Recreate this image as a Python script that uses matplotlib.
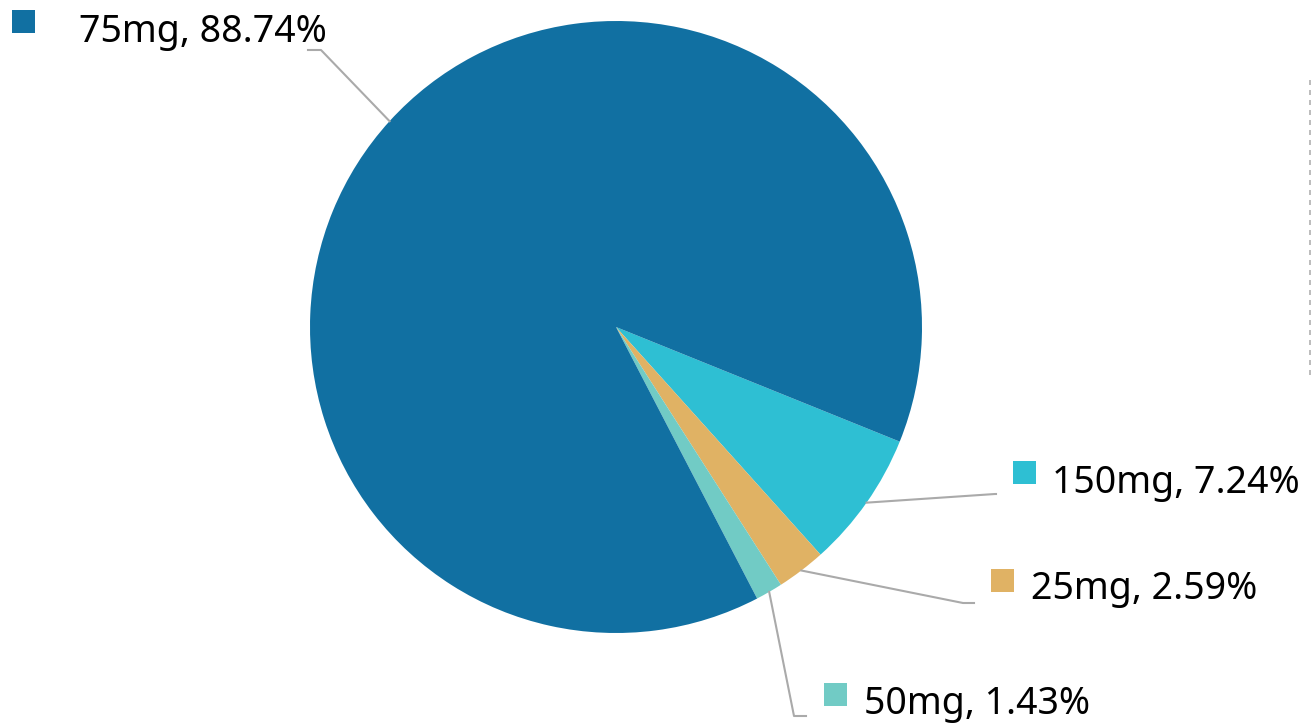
import numpy as np
import matplotlib.pyplot as plt
from matplotlib.patches import Rectangle
from matplotlib.lines import Line2D

plt.rcParams['font.family'] = ['Noto Sans', 'DejaVu Sans']

# data
labels = ['150mg', '25mg', '50mg', '75mg']
shares = [7.24, 2.59, 1.43, 88.74]
colors = ['#2EBFD3', '#E0B264', '#71CBC5', '#1170A2']

# layout (pixel coords, y measured from top)
W, H = 1311, 728
cx, cy, R = 616, 327, 306
# elbow point, end of leader, legend square left/top, text left/centre-y
elbow = {'150mg': (995, 494), '25mg': (963, 603), '50mg': (794, 716), '75mg': (321, 50)}
line_end = {'150mg': (996, 494), '25mg': (974, 603), '50mg': (806, 716), '75mg': (308, 50)}
square = {'150mg': (1013, 461), '25mg': (991, 569), '50mg': (824, 683), '75mg': (12, 10)}
text_pos = {'150mg': (1052, 483), '25mg': (1031, 589), '50mg': (864, 704), '75mg': (79, 32)}

fig = plt.figure(figsize=(W / 100, H / 100), dpi=100)
ax = fig.add_axes([0, 0, 1, 1])
ax.set_xlim(0, W)
ax.set_ylim(0, H)
ax.set_aspect('equal')
ax.axis('off')

wedges, _ = ax.pie(shares, colors=colors, startangle=-22, counterclock=False,
                   center=(cx, H - cy), radius=R, frame=True,
                   wedgeprops=dict(linewidth=0))
ax.set_xlim(0, W)
ax.set_ylim(0, H)
ax.axis('off')

for w, lab, pct in zip(wedges, labels, shares):
    mid = np.deg2rad((w.theta1 + w.theta2) / 2)
    x0 = cx + R * np.cos(mid)
    y0 = (H - cy) + R * np.sin(mid)
    ex, ey = elbow[lab]
    lx, ly = line_end[lab]
    ax.plot([x0, ex, lx], [y0, H - ey, H - ly], color='#aaaaaa', lw=1.5,
            solid_joinstyle='round')
    sx, sy = square[lab]
    ax.add_patch(Rectangle((sx, H - sy - 23), 23, 23, color=w.get_facecolor(), lw=0))
    tx, ty = text_pos[lab]
    ax.text(tx, H - ty, f'{lab}, {pct:.2f}%', fontsize=27, color='black',
            ha='left', va='center')

# faint dashed guide on right edge
fig.add_artist(Line2D([1309.5 / W, 1309.5 / W], [1 - 80 / H, 1 - 376 / H],
                      color='#b0b0b0', lw=1.2, linestyle=(0, (3, 3))))

fig.savefig('out.png', dpi=100, facecolor='white')
